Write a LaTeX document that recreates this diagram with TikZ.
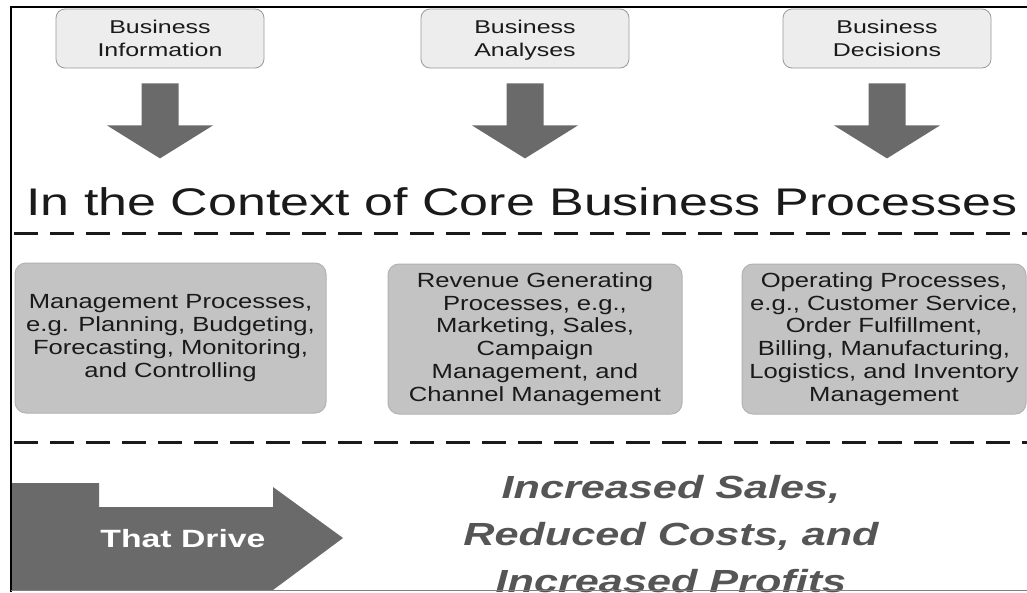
\documentclass[tikz,border=0pt]{standalone}
\usepackage{fontspec}
\setmainfont{Liberation Sans}[FakeStretch=1.35]
\newfontfamily\procfont{Liberation Sans}[FakeStretch=1.25]
\definecolor{ink}{HTML}{1A1A1A}
\definecolor{topfill}{HTML}{EDEDED}
\definecolor{topline}{HTML}{9A9A9A}
\definecolor{procfill}{HTML}{C3C3C3}
\definecolor{procline}{HTML}{B2B2B2}
\definecolor{arrowgray}{HTML}{6A6A6A}
\definecolor{resultgray}{HTML}{555555}
\tikzset{
  topbox/.style={draw=topline, fill=topfill, rounded corners=9pt, line width=0.8pt,
    minimum width=208pt, minimum height=59pt, inner sep=0pt, align=center,
    text depth=0pt, text=ink, font=\fontsize{18.5}{23}\selectfont},
  procbox/.style={draw=procline, fill=procfill, rounded corners=11pt, line width=1pt,
    minimum height=150pt, inner sep=0pt, align=center,
    text=ink, font=\procfont\fontsize{20.5}{22.8}\selectfont},
  divider/.style={draw=ink, line width=3pt, dash pattern=on 24pt off 12pt},
  blockarrow/.style={fill=arrowgray}
}
\begin{document}
\begin{tikzpicture}[x=1pt,y=-1pt]
  \useasboundingbox (0,0) rectangle (1027,592);
  \fill[white] (0,0) rectangle (1027,592);

  \node[topbox] (info) at (160,38.5) {Business\\Information};
  \node[topbox] (anal) at (525,38.5) {Business\\Analyses};
  \node[topbox] (deci) at (887,38.5) {Business\\Decisions};

  \foreach \n in {info,anal,deci}
    \fill[blockarrow] (\n.south) ++(-18.5,15) -- ++(37,0) -- ++(0,42) -- ++(34.5,0)
      -- ++(-53,33) -- ++(-53,-33) -- ++(34.5,0) -- cycle;

  \node[anchor=base, text=ink, font=\fontsize{38.5}{44}\selectfont] (ctx) at (522,215)
    {In the Context of Core Business Processes};

  \draw[divider] (14,233) -- (1027,233);

  \node[procbox, minimum width=311pt] (mgmt) at (170.5,338)
    {Management Processes,\\e.g. Planning, Budgeting,\\Forecasting, Monitoring,\\and Controlling};
  \node[procbox, minimum width=294pt] (rev) at (535,339)
    {Revenue Generating\\Processes, e.g.,\\Marketing, Sales,\\Campaign\\Management, and\\Channel Management};
  \node[procbox, minimum width=284pt] (oper) at (884,339)
    {Operating Processes,\\e.g., Customer Service,\\Order Fulfillment,\\Billing, Manufacturing,\\Logistics, and Inventory\\Management};

  \draw[divider] (14,442) -- (1027,442);

  \fill[blockarrow] (11,483) -- (99,483) -- (99,507) -- (273,507) -- (273,487)
    -- (343,538) -- (273,590) -- (11,590) -- cycle;
  \node[anchor=base, text=white, font=\bfseries\fontsize{25}{30}\selectfont] (drive) at (183,547) {That Drive};

  \node[align=center, text=resultgray, font=\bfseries\itshape\fontsize{32}{47}\selectfont] (result) at (671,534)
    {Increased Sales,\\Reduced Costs, and\\Increased Profits};

  \draw[line width=2pt, black] (1027,7) -- (11,7) -- (11,592);
  \draw[line width=1pt, gray] (11,590) -- (1027,590);
\end{tikzpicture}
\end{document}
